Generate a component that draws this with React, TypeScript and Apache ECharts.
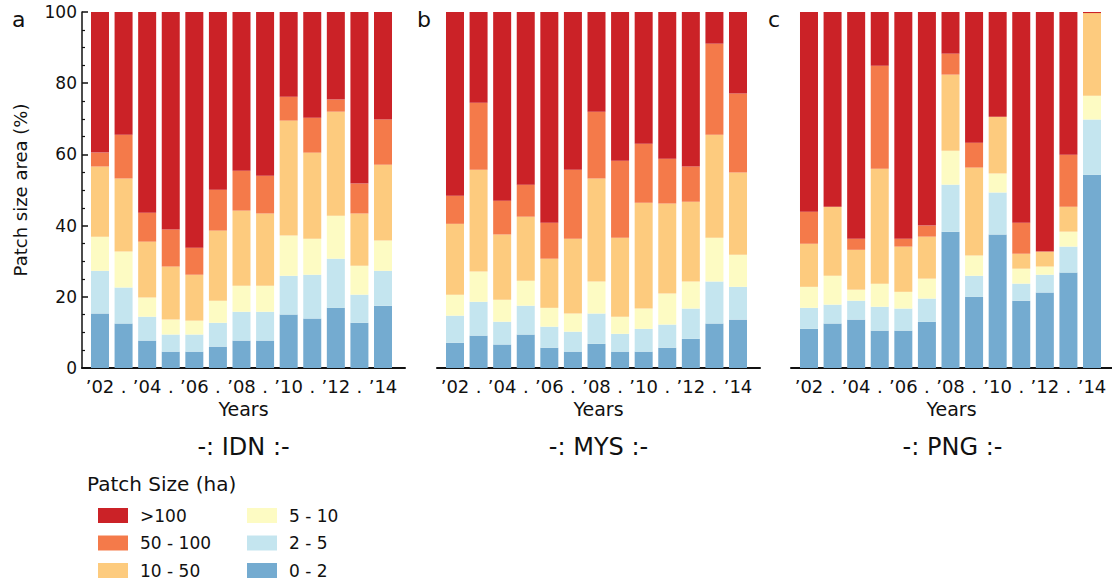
import React, { useEffect, useRef } from "react";
import * as echarts from "echarts";

// Years shown on every panel
const YEARS = ["2002", "2003", "2004", "2005", "2006", "2007", "2008", "2009", "2010", "2011", "2012", "2013", "2014"];

// Patch-size classes, from the bottom of each stack upwards
const CLASSES = ["0 - 2", "2 - 5", "5 - 10", "10 - 50", "50 - 100", ">100"];
const CLASS_COLORS = ["#74ABD0", "#C4E5EF", "#FDFBC3", "#FDCB7E", "#F47A4A", "#CB2227"];

// Indonesia – share of patch area (%) by class
const IDN_0_2 = [15.3, 12.5, 7.7, 4.6, 4.6, 6.0, 7.7, 7.7, 15.0, 13.9, 16.9, 12.7, 17.5];
const IDN_2_5 = [12.0, 10.1, 6.7, 4.8, 4.8, 6.7, 8.1, 8.1, 10.9, 12.3, 13.8, 7.9, 9.8];
const IDN_5_10 = [9.6, 10.1, 5.4, 4.2, 3.9, 6.2, 7.3, 7.3, 11.3, 10.1, 12.1, 8.1, 8.5];
const IDN_10_50 = [19.7, 20.5, 15.7, 14.9, 12.9, 19.7, 21.1, 20.3, 32.3, 24.2, 29.2, 14.7, 21.3];
const IDN_50_100 = [3.9, 12.3, 8.1, 10.4, 7.6, 11.5, 11.2, 10.6, 6.7, 9.8, 3.4, 8.4, 12.7];
const IDN_GT100 = [39.5, 34.5, 56.4, 61.1, 66.2, 49.9, 44.6, 46.0, 23.8, 29.7, 24.6, 48.2, 30.2];

// Malaysia
const MYS_0_2 = [7.1, 9.1, 6.6, 9.4, 5.7, 4.6, 6.8, 4.6, 4.6, 5.7, 8.2, 12.5, 13.6];
const MYS_2_5 = [7.6, 9.5, 6.4, 8.1, 5.9, 5.6, 8.5, 5.0, 6.4, 6.5, 8.5, 11.8, 9.2];
const MYS_5_10 = [5.9, 8.5, 6.2, 7.0, 5.3, 5.1, 9.0, 4.8, 5.7, 8.7, 7.6, 12.3, 9.0];
const MYS_10_50 = [19.9, 28.6, 18.3, 18.0, 13.8, 21.0, 28.9, 22.2, 29.7, 25.3, 22.4, 28.9, 23.1];
const MYS_50_100 = [7.9, 18.8, 9.5, 9.0, 10.1, 19.4, 18.8, 21.6, 16.6, 12.6, 9.9, 25.6, 22.2];
const MYS_GT100 = [51.6, 25.5, 53.0, 48.5, 59.2, 44.3, 28.0, 41.8, 37.0, 41.2, 43.4, 8.9, 22.9];

// Papua New Guinea
const PNG_0_2 = [11.0, 12.5, 13.6, 10.5, 10.5, 13.0, 38.3, 20.0, 37.5, 18.9, 21.2, 26.8, 54.3];
const PNG_2_5 = [5.9, 5.3, 5.3, 6.7, 6.2, 6.5, 13.2, 5.9, 11.8, 4.8, 5.0, 7.3, 15.5];
const PNG_5_10 = [5.9, 8.1, 3.1, 6.5, 4.7, 5.6, 9.5, 5.7, 5.3, 4.2, 2.3, 4.2, 6.7];
const PNG_10_50 = [12.1, 19.4, 11.2, 32.3, 12.7, 11.8, 21.4, 24.7, 16.0, 4.2, 4.2, 7.0, 23.2];
const PNG_50_100 = [9.0, 0.0, 3.1, 28.9, 2.2, 3.1, 5.9, 7.0, 0.0, 8.7, 0.0, 14.6, 0.0];
const PNG_GT100 = [56.1, 54.7, 63.7, 15.1, 63.7, 60.0, 11.7, 36.7, 29.4, 59.2, 67.3, 40.1, 0.3];

const PANEL_LETTERS = ["a", "b", "c"];
const PANEL_TITLES = ["-: IDN :-", "-: MYS :-", "-: PNG :-"];
const Y_MIN = 0;
const Y_MAX = 100;
const Y_STEP = 20;

const PANELS = [
  [IDN_0_2, IDN_2_5, IDN_5_10, IDN_10_50, IDN_50_100, IDN_GT100],
  [MYS_0_2, MYS_2_5, MYS_5_10, MYS_10_50, MYS_50_100, MYS_GT100],
  [PNG_0_2, PNG_2_5, PNG_5_10, PNG_10_50, PNG_50_100, PNG_GT100],
];

const FONT = "DejaVu Sans";
const INK = "#111111";

// Frame (axis lines) and plotting band for each panel
const FRAME_LEFT = [82, 437, 791];
const FRAME_WIDTH = 323;
const BAND_INSET = 6.2;
const BAND_WIDTH = 306.6;
const GRID_TOP = 12;
const GRID_HEIGHT = 356;

export default function App() {
  const ref = useRef<HTMLDivElement>(null);

  useEffect(() => {
    if (!ref.current) return;
    const chart = echarts.init(ref.current, undefined, { renderer: "svg" });

    // grids 0..2: frames carrying the axis lines; grids 3..5: bar bands
    const grids = [
      ...FRAME_LEFT.map((left) => ({ left, top: GRID_TOP, width: FRAME_WIDTH, height: GRID_HEIGHT })),
      ...FRAME_LEFT.map((left) => ({ left: left + BAND_INSET, top: GRID_TOP, width: BAND_WIDTH, height: GRID_HEIGHT })),
    ];

    const frameX = FRAME_LEFT.map((_, i) => ({
      type: "value",
      gridIndex: i,
      min: 0,
      max: 1,
      splitLine: { show: false },
      axisLine: { show: true, lineStyle: { color: INK, width: 2 } },
      axisTick: { show: false },
      axisLabel: { show: false },
      name: "Years",
      nameLocation: "middle",
      nameGap: 31,
      nameTextStyle: { color: INK, fontFamily: FONT, fontSize: 19 },
    }));

    const frameY = FRAME_LEFT.map((_, i) => ({
      type: "value",
      gridIndex: i,
      min: Y_MIN,
      max: Y_MAX,
      interval: Y_STEP,
      show: i === 0,
      splitLine: { show: false },
      axisLine: { show: true, lineStyle: { color: INK, width: 1.5 } },
      axisTick: { show: true, inside: true, length: 6, lineStyle: { color: INK, width: 1.5 } },
      minorTick: { show: true, splitNumber: 4, length: 3, lineStyle: { color: INK, width: 1.2 } },
      axisLabel: { color: INK, fontFamily: FONT, fontSize: 17, margin: 5 },
      name: i === 0 ? "Patch size area (%)" : "",
      nameLocation: "middle",
      nameGap: 53,
      nameTextStyle: { color: INK, fontFamily: FONT, fontSize: 18 },
    }));

    const bandX = FRAME_LEFT.map((_, i) => ({
      type: "category",
      gridIndex: 3 + i,
      data: YEARS,
      boundaryGap: true,
      axisLine: { show: false },
      axisTick: {
        show: true,
        inside: true,
        alignWithLabel: true,
        interval: 0,
        length: 6,
        lineStyle: { color: INK, width: 2 },
      },
      axisLabel: {
        interval: 0,
        color: INK,
        fontFamily: FONT,
        fontSize: 18,
        margin: 9,
        formatter: (v: string) => (Number(v) % 2 === 0 ? "\u2019" + v.slice(2) : "."),
      },
    }));

    const bandY = FRAME_LEFT.map((_, i) => ({
      type: "value",
      gridIndex: 3 + i,
      min: Y_MIN,
      max: Y_MAX,
      show: false,
    }));

    const series: any[] = [];
    PANELS.forEach((panel, p) => {
      panel.forEach((values, c) => {
        series.push({
          type: "bar",
          name: CLASSES[c],
          xAxisIndex: 3 + p,
          yAxisIndex: 3 + p,
          stack: "panel" + p,
          barWidth: 18,
          itemStyle: { color: CLASS_COLORS[c] },
          emphasis: { disabled: true },
          data: values,
        });
      });
    });

    const legendCommon = {
      orient: "vertical",
      top: 502,
      height: 120,
      itemWidth: 30,
      itemHeight: 15,
      itemGap: 10.5,
      icon: "rect",
      textStyle: { color: INK, fontFamily: FONT, fontSize: 17, padding: [0, 0, 0, 7] },
    };

    const graphics: any[] = [];
    PANEL_LETTERS.forEach((letter, i) => {
      graphics.push({
        type: "text",
        left: [12, 417, 768][i],
        top: 8,
        style: { text: letter, font: `22px "${FONT}"`, fill: INK },
      });
    });
    PANEL_TITLES.forEach((title, i) => {
      graphics.push({
        type: "text",
        x: FRAME_LEFT[i] + FRAME_WIDTH / 2,
        y: 447,
        style: {
          text: title,
          font: `24px "${FONT}"`,
          fill: INK,
          align: "center",
          verticalAlign: "middle",
        },
      });
    });
    graphics.push({
      type: "text",
      x: 87,
      y: 484,
      style: {
        text: "Patch Size (ha)",
        font: `20px "${FONT}"`,
        fill: INK,
        align: "left",
        verticalAlign: "middle",
      },
    });

    chart.setOption({
      animation: false,
      backgroundColor: "#ffffff",
      textStyle: { fontFamily: FONT },
      grid: grids,
      xAxis: [...frameX, ...bandX],
      yAxis: [...frameY, ...bandY],
      series,
      legend: [
        { ...legendCommon, left: 93, data: [">100", "50 - 100", "10 - 50"] },
        { ...legendCommon, left: 242, data: ["5 - 10", "2 - 5", "0 - 2"] },
      ],
      graphic: graphics,
    });

    return () => chart.dispose();
  }, []);

  return (
    <div
      ref={ref}
      style={{ position: "fixed", left: 0, top: 0, width: 1112, height: 582, background: "#fff" }}
    />
  );
}
